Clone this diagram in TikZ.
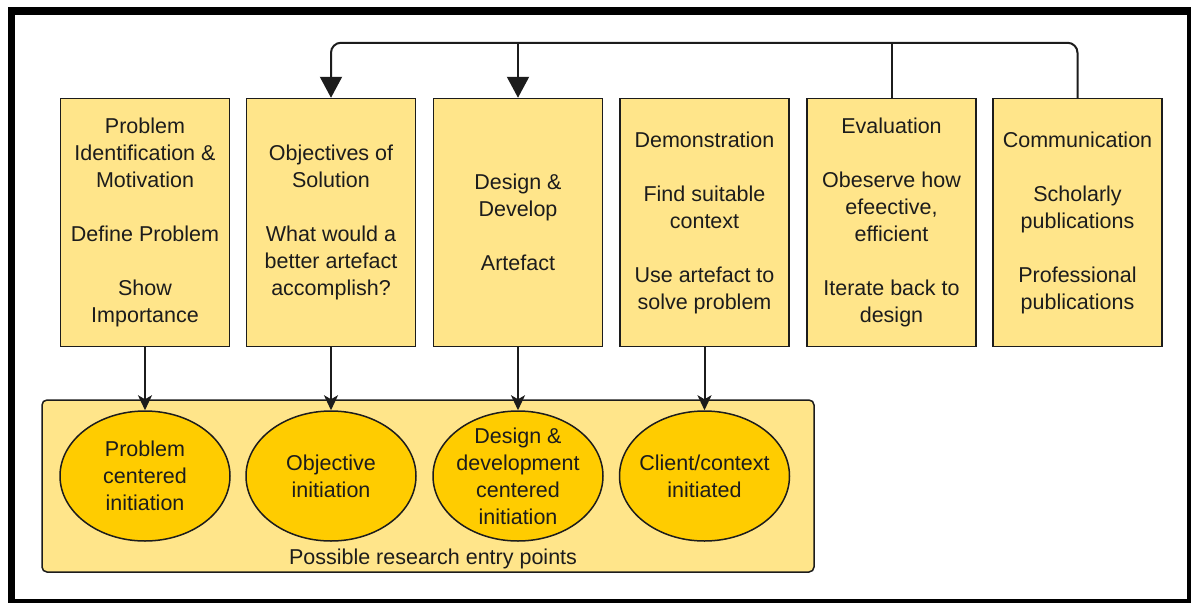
\documentclass[tikz,border=0pt]{standalone}
\usepackage{fontspec}
\setmainfont{Liberation Sans}
\usetikzlibrary{arrows.meta,shapes.geometric}
\definecolor{boxfill}{HTML}{FFE58A}
\definecolor{ovalfill}{HTML}{FFCC00}
\definecolor{ink}{HTML}{1C1C1C}
\newcommand\diagfont{\fontsize{21.5pt}{27pt}\selectfont}
\begin{document}
\begin{tikzpicture}[x=1pt,y=-1pt,
  stage/.style={draw=ink, line width=1.5pt, fill=boxfill, minimum width=169pt,
    minimum height=248pt, inner sep=0pt, align=center, font=\diagfont, text=ink},
  entry/.style={ellipse, draw=ink, line width=1.5pt, fill=ovalfill, minimum width=170pt,
    minimum height=130pt, inner xsep=-40pt, inner ysep=-30pt, align=center,
    font=\diagfont, text=ink},
  zone/.style={draw=ink, line width=1.5pt, fill=boxfill, rounded corners=5pt,
    minimum width=772pt, minimum height=172pt, inner sep=0pt},
  loopback/.style={draw=ink, line width=2pt, -{Triangle[length=21pt,width=22pt]}},
  feed/.style={draw=ink, line width=2pt, -{Stealth[length=15pt,width=14pt,inset=4pt]}}]
  % canvas and frame
  \useasboundingbox (0,0) rectangle (1192,603);
  \fill[black] (8,7) rectangle (1191,603);
  \fill[white] (15,15) rectangle (1187,599);

  % process stages
  \node[stage] (p1) at (145,222.5) {Problem\\Identification \&\\Motivation\\[27pt]Define Problem\\[27pt]Show\\Importance};
  \node[stage] (p2) at (331,222.5) {Objectives of\\Solution\\[27pt]What would a\\better artefact\\accomplish?};
  \node[stage] (p3) at (518,222.5) {Design \&\\Develop\\[27pt]Artefact};
  \node[stage] (p4) at (704.5,222.5) {Demonstration\\[27pt]Find suitable\\context\\[27pt]Use artefact to\\solve problem};
  \node[stage] (p5) at (891.5,222.5) {Evaluation\\[27pt]Obeserve how\\efeective,\\efficient\\[27pt]Iterate back to\\design};
  \node[stage] (p6) at (1077.5,222.5) {Communication\\[27pt]Scholarly\\publications\\[27pt]Professional\\publications};

  % entry points
  \node[zone] (area) at (428,486) {};
  \node[font=\diagfont, text=ink, anchor=base] (areaname) at (433,564) {Possible research entry points};
  \node[entry] (e1) at (145,476) {Problem\\centered\\initiation};
  \node[entry] (e2) at (331,476) {Objective\\initiation};
  \node[entry] (e3) at (518,476) {Design \&\\development\\centered\\initiation};
  \node[entry] (e4) at (704.5,476) {Client/context\\initiated};

  % iteration loops
  \draw[loopback] (p5.north) -- ++(0,-55) -| (p3.north);
  \draw[loopback, rounded corners=10pt] (p6.north) -- ++(0,-55) -| (p2.north);

  % stage to entry point
  \draw[feed] (p1.south) -- (e1.north);
  \draw[feed] (p2.south) -- (e2.north);
  \draw[feed] (p3.south) -- (e3.north);
  \draw[feed] (p4.south) -- (e4.north);
\end{tikzpicture}
\end{document}
